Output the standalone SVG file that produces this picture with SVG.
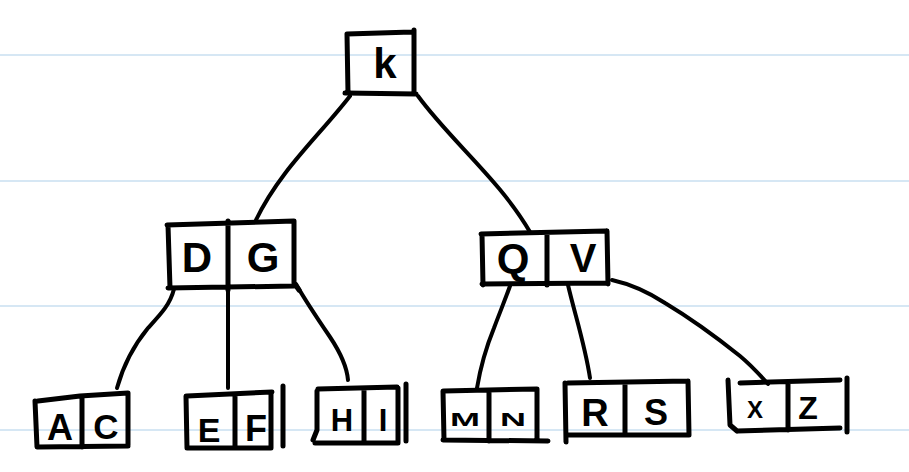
<svg xmlns="http://www.w3.org/2000/svg" width="909" height="472" viewBox="0 0 909 472">
<style>
.rule{stroke:#d6e7f4;stroke-width:2;fill:none}
.box{stroke:#000;stroke-width:5;fill:none;stroke-linecap:round;stroke-linejoin:round}
.edge{stroke:#000;stroke-width:4;fill:none;stroke-linecap:round;stroke-linejoin:round}
.lbl{font-family:"Liberation Sans","DejaVu Sans",sans-serif;font-weight:bold;fill:#000;text-anchor:middle}
</style>
<rect width="909" height="472" fill="#fff"/>
<g id="rules">
<line class="rule" x1="0" y1="55" x2="909" y2="55"/>
<line class="rule" x1="0" y1="181" x2="909" y2="181"/>
<line class="rule" x1="0" y1="306" x2="909" y2="306"/>
<line class="rule" x1="0" y1="430" x2="909" y2="430"/>
</g>
<g id="connectors">
<path class="edge" d="M350,96 C320,135 280,170 256,220"/>
<path class="edge" d="M418,96 C450,140 500,180 530,232"/>
<path class="edge" d="M174,289 C170,305 160,315 148,328 C130,350 122,370 117,388"/>
<path class="edge" d="M228,287 L228,388"/>
<path class="edge" d="M296,284 C305,300 315,315 330,337 C342,355 347,368 348,380"/>
<path class="edge" d="M510,286 C505,300 500,312 494,328 C485,350 480,370 477,388"/>
<path class="edge" d="M568,285 C575,315 585,345 590,378"/>
<path class="edge" d="M612,280 C630,284 645,290 665,303 C690,318 715,336 740,356 C752,366 760,375 768,384"/>
</g>
<g id="node-k">
<path class="box" d="M347,34 L412,32 M347,34 L348,93 M414,30 L414,93 M345,93 L416,94"/>
<text class="lbl" x="385" y="78" font-size="42">k</text>
</g>
<g id="node-dg">
<path class="box" d="M167,225 L294,221 M168,225 L170,288 M294,221 L294,283 L299,290 M168,288 L294,286 M228,221 L228,290"/>
<text class="lbl" x="197" y="272" font-size="42">D</text>
<text class="lbl" x="263" y="272" font-size="42">G</text>
</g>
<g id="node-qv">
<path class="box" d="M481,234 L606,231 M482,234 L483,285 M607,231 L608,284 M482,284 L608,283 M547,233 L547,285"/>
<text class="lbl" x="513" y="273" font-size="42">Q</text>
<text class="lbl" x="583" y="272" font-size="40">V</text>
</g>
<g id="node-ac">
<path class="box" d="M38,401 L80,396 L128,393 M35,401 L37,447 M128,393 L128,445 M38,447 L128,446 M82,397 L82,447"/>
<text class="lbl" x="60" y="440" font-size="36">A</text>
<text class="lbl" x="106" y="439" font-size="35">C</text>
</g>
<g id="node-ef">
<path class="box" d="M187,396 L272,392 M186,396 L187,448 M271,393 L271,448 M187,448 L271,448 M235,395 L235,448 M283,386 L283,446"/>
<text class="lbl" x="209" y="442" font-size="34">E</text>
<text class="lbl" x="256" y="441" font-size="36">F</text>
</g>
<g id="node-hi">
<path class="box" d="M318,389 L397,387 M317,391 L317,430 L313,440 M315,443 L398,443 M398,388 L398,443 M406,384 L406,441 M364,389 L364,443"/>
<text class="lbl" x="342" y="431" font-size="31">H</text>
<text class="lbl" x="383" y="431" font-size="31">I</text>
</g>
<g id="node-mn">
<path class="box" d="M444,391 L537,389 M443,391 L444,440 M537,389 L537,440 M443,440 L548,441 M489,390 L489,441"/>
<text class="lbl" x="465" y="426" font-size="18" textLength="30" lengthAdjust="spacingAndGlyphs">M</text>
<text class="lbl" x="513" y="426" font-size="18" textLength="26" lengthAdjust="spacingAndGlyphs">N</text>
</g>
<g id="node-rs">
<path class="box" d="M568,383 L688,381 M565,383 L566,442 M688,381 L689,435 M567,435 L689,435 M625,383 L625,435"/>
<text class="lbl" x="595" y="426" font-size="38">R</text>
<text class="lbl" x="656" y="425" font-size="36">S</text>
</g>
<g id="node-xz">
<path class="box" d="M740,383 L840,380 M728,380 L730,425 L737,431 M737,431 L840,428 M788,383 L788,430 M847,378 L847,432"/>
<text class="lbl" x="755" y="418" font-size="24">X</text>
<text class="lbl" x="808" y="419" font-size="32">Z</text>
</g>
</svg>
